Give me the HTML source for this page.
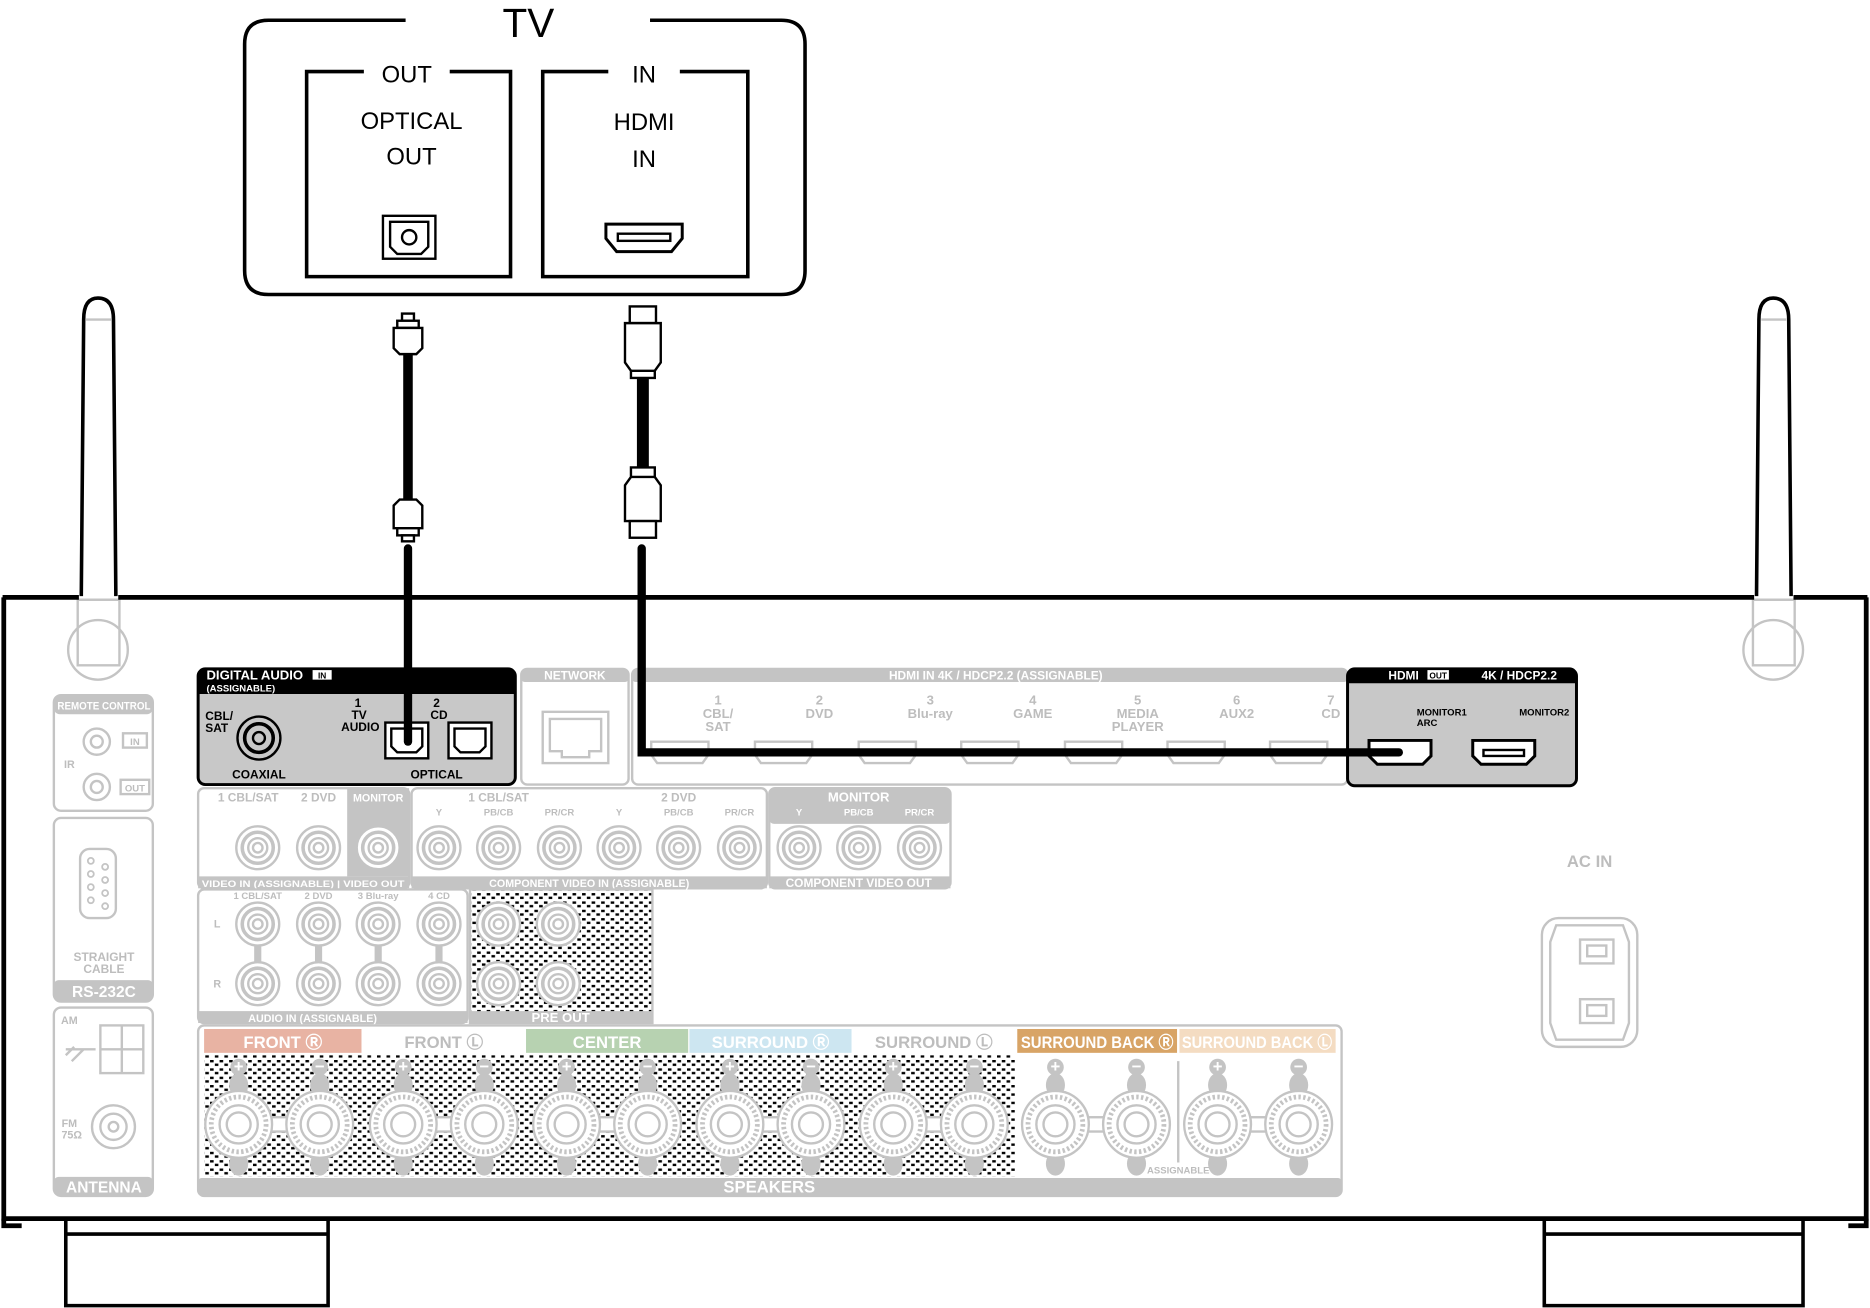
<!DOCTYPE html>
<html><head><meta charset="utf-8"><style>
html,body{margin:0;padding:0;background:#fff}
svg{display:block}
text{font-family:"Liberation Sans",Arial,sans-serif}
.g{fill:none;stroke:#c4c4c4;stroke-width:2}
.gt{fill:#bdbdbd;font-weight:bold;text-anchor:middle}
.wt{fill:#fff;font-weight:bold;text-anchor:middle}
.k{fill:none;stroke:#000;stroke-width:3}
</style></head><body>
<svg width="1870" height="1308" viewBox="0 0 1568 1097" font-size="10" xmlns="http://www.w3.org/2000/svg">
<defs>
<pattern id="h" width="8" height="7" patternUnits="userSpaceOnUse">
<rect x="0" y="0" width="3" height="2" fill="#000"/><rect x="4" y="3" width="3" height="2" fill="#000"/>
</pattern>
<g id="rca"><circle r="18" fill="#fff" stroke="#c4c4c4" stroke-width="2"/><circle r="13" fill="none" stroke="#c4c4c4" stroke-width="3"/><circle r="8" fill="none" stroke="#c4c4c4" stroke-width="2"/><circle r="4" fill="none" stroke="#c4c4c4" stroke-width="2"/></g>
<g id="spk"><ellipse cx="0" cy="-33" rx="8" ry="10" fill="#c4c4c4"/><ellipse cx="0" cy="33" rx="8" ry="10" fill="#c4c4c4"/><circle cx="0" cy="-48" r="7" fill="#c4c4c4"/><circle r="28" fill="#fff" stroke="#c4c4c4" stroke-width="2"/><circle r="23" fill="none" stroke="#c4c4c4" stroke-width="4" stroke-dasharray="2 2"/><circle r="16" fill="none" stroke="#c4c4c4" stroke-width="2"/><circle r="10" fill="none" stroke="#c4c4c4" stroke-width="2"/></g>
<g id="pair"><rect x="25" y="-6" width="20" height="12" fill="#fff" stroke="#c4c4c4" stroke-width="2"/><use href="#spk"/><use href="#spk" x="68"/><text x="0" y="-44" fill="#fff" font-size="14" font-weight="bold" text-anchor="middle">+</text><text x="68" y="-44" fill="#fff" font-size="14" font-weight="bold" text-anchor="middle">−</text></g>
<g id="hp"><path d="M-24,-9 H24 V2 L19,9 H-19 L-24,2 Z" fill="none" stroke="#c4c4c4" stroke-width="2"/></g>
</defs>

<!-- TV -->
<path d="M340,17 H225 Q205,17 205,37 V227 Q205,247 225,247 H655 Q675,247 675,227 V37 Q675,17 655,17 H545" class="k"/>
<text x="443" y="31" font-size="34" text-anchor="middle">TV</text>
<path d="M305,60 H257 V232 H428 V60 H377" class="k" stroke-width="2"/>
<text x="341" y="69" font-size="20" text-anchor="middle">OUT</text>
<path d="M510,60 H455 V232 H627 V60 H570" class="k" stroke-width="2"/>
<text x="540" y="69" font-size="20" text-anchor="middle">IN</text>
<text x="345" y="108" font-size="20" text-anchor="middle">OPTICAL</text>
<text x="345" y="138" font-size="20" text-anchor="middle">OUT</text>
<text x="540" y="109" font-size="20" text-anchor="middle">HDMI</text>
<text x="540" y="140" font-size="20" text-anchor="middle">IN</text>
<rect x="321" y="181" width="44" height="36" fill="none" stroke="#000" stroke-width="2"/>
<path d="M327,186 H359 V207 L353,213 H333 L327,207 Z" fill="none" stroke="#000" stroke-width="2"/>
<circle cx="343" cy="199" r="6" fill="none" stroke="#000" stroke-width="2"/>
<path d="M508,188 H572 V200 L563,211 H517 L508,200 Z" fill="none" stroke="#000" stroke-width="2.5"/>
<rect x="518" y="196" width="44" height="6" fill="none" stroke="#000" stroke-width="2"/>

<!-- optical cable -->
<rect x="337" y="263" width="10" height="6" fill="#fff" stroke="#000" stroke-width="2"/>
<rect x="333" y="269" width="18" height="6" fill="#fff" stroke="#000" stroke-width="2"/>
<path d="M330,275 H354 V292 L349,297 H335 L330,292 Z" fill="#fff" stroke="#000" stroke-width="2"/>
<rect x="338" y="297" width="8" height="122" fill="#000"/>
<path d="M335,419 H349 L354,424 V443 H330 V424 Z" fill="#fff" stroke="#000" stroke-width="2"/>
<rect x="333" y="443" width="18" height="6" fill="#fff" stroke="#000" stroke-width="2"/>
<rect x="337" y="449" width="10" height="5" fill="#fff" stroke="#000" stroke-width="2"/>
<!-- hdmi cable -->
<rect x="528" y="257" width="22" height="14" fill="#fff" stroke="#000" stroke-width="2"/>
<path d="M524,271 H554 V304 L549,311 V317 H529 V311 L524,304 Z" fill="#fff" stroke="#000" stroke-width="2"/>
<line x1="529" y1="311" x2="549" y2="311" stroke="#000" stroke-width="2"/>
<rect x="534" y="317" width="10" height="76" fill="#000"/>
<path d="M529,392 H549 V400 L554,407 V437 H524 V407 L529,400 Z" fill="#fff" stroke="#000" stroke-width="2"/>
<line x1="529" y1="400" x2="549" y2="400" stroke="#000" stroke-width="2"/>
<rect x="528" y="437" width="22" height="14" fill="#fff" stroke="#000" stroke-width="2"/>

<!-- antennas -->
<g>
<path d="M68,500 L70,268 Q70,250 82,250 Q95,250 95,268 L97,500" fill="#fff" class="k" stroke-width="4"/>
<line x1="72" y1="268" x2="93" y2="268" stroke="#c4c4c4" stroke-width="2"/>
<path d="M65,503 H100 V558 H65 Z" class="g"/>
<circle cx="82" cy="545" r="25" class="g"/>
<path d="M1473,500 L1475,268 Q1475,250 1487,250 Q1500,250 1500,268 L1502,500" fill="#fff" class="k" stroke-width="4"/>
<line x1="1477" y1="268" x2="1498" y2="268" stroke="#c4c4c4" stroke-width="2"/>
<path d="M1470,503 H1505 V558 H1470 Z" class="g"/>
<circle cx="1487" cy="545" r="25" class="g"/>
</g>

<!-- body -->
<path d="M2,501 H66 M99,501 H1471 M1504,501 H1566" stroke="#000" stroke-width="4"/>
<path d="M3,501 V1022 H1565 V501" fill="none" stroke="#000" stroke-width="4"/>
<path d="M3,1022 L3,1028 H18 M1565,1022 V1028 H1550" fill="none" stroke="#000" stroke-width="4"/>
<path d="M55,1024 V1095 H275 V1024 M55,1035 H275" fill="none" stroke="#000" stroke-width="3"/>
<path d="M1295,1024 V1095 H1512 V1024 M1295,1035 H1512" fill="none" stroke="#000" stroke-width="3"/>

<!-- left column -->
<rect x="45" y="583" width="83" height="97" rx="6" class="g"/>
<rect x="45" y="583" width="83" height="16" rx="5" fill="#c4c4c4"/>
<text x="87" y="595" class="wt" font-size="9" textLength="78" lengthAdjust="spacingAndGlyphs">REMOTE CONTROL</text>
<text x="58" y="644" class="gt" font-size="9">IR</text>
<circle cx="81" cy="622" r="11" class="g"/><circle cx="81" cy="622" r="5" class="g"/>
<circle cx="81" cy="660" r="11" class="g"/><circle cx="81" cy="660" r="5" class="g"/>
<rect x="103" y="615" width="20" height="12" class="g"/><text x="113" y="625" class="gt" font-size="8">IN</text>
<rect x="101" y="654" width="24" height="12" class="g"/><text x="113" y="664" class="gt" font-size="8">OUT</text>
<rect x="45" y="686" width="83" height="154" rx="6" class="g"/>
<rect x="67" y="712" width="30" height="58" rx="8" class="g"/>
<g fill="none" stroke="#c4c4c4" stroke-width="1.5"><circle cx="76" cy="722" r="2.5"/><circle cx="76" cy="733" r="2.5"/><circle cx="76" cy="744" r="2.5"/><circle cx="76" cy="755" r="2.5"/><circle cx="88" cy="727" r="2.5"/><circle cx="88" cy="738" r="2.5"/><circle cx="88" cy="749" r="2.5"/><circle cx="88" cy="760" r="2.5"/></g>
<text x="87" y="806" class="gt">STRAIGHT</text><text x="87" y="816" class="gt">CABLE</text>
<rect x="45" y="822" width="83" height="18" rx="4" fill="#c4c4c4"/>
<text x="87" y="836" class="wt" font-size="13">RS-232C</text>
<rect x="45" y="845" width="83" height="158" rx="6" class="g"/>
<text x="58" y="859" class="gt" font-size="9">AM</text>
<rect x="84" y="860" width="36" height="40" class="g"/>
<path d="M84,880 H120 M102,860 V900" class="g"/>
<path d="M55,880 H80 M60,890 L70,880 M55,885 L62,878" class="g"/>
<text x="58" y="945" class="gt" font-size="9">FM</text><text x="60" y="955" class="gt" font-size="9">75Ω</text>
<circle cx="95" cy="945" r="18" class="g"/><circle cx="95" cy="945" r="11" class="g"/><circle cx="95" cy="945" r="4" class="g"/>
<rect x="45" y="987" width="83" height="16" rx="4" fill="#c4c4c4"/>
<text x="87" y="1000" class="wt" font-size="13">ANTENNA</text>

<!-- digital audio panel -->
<rect x="166" y="561" width="266" height="97" rx="6" fill="#c8c8c8" stroke="#000" stroke-width="2.5"/>
<path d="M166,582 V567 Q166,561 172,561 H426 Q432,561 432,567 V582 Z" fill="#000"/>
<text x="173" y="570" fill="#fff" font-size="11" font-weight="bold">DIGITAL AUDIO</text>
<rect x="262" y="562" width="16" height="8" fill="#fff"/><text x="270" y="569" font-size="7" font-weight="bold" text-anchor="middle">IN</text>
<text x="173" y="580" fill="#fff" font-size="8" font-weight="bold">(ASSIGNABLE)</text>
<text x="172" y="604" font-size="10" font-weight="bold">CBL/</text><text x="172" y="614" font-size="10" font-weight="bold">SAT</text>
<circle cx="217" cy="619" r="18" fill="none" stroke="#000" stroke-width="2"/><circle cx="217" cy="619" r="12" fill="none" stroke="#000" stroke-width="3"/><circle cx="217" cy="619" r="5" fill="none" stroke="#000" stroke-width="2"/>
<text x="217" y="653" font-size="10" font-weight="bold" text-anchor="middle">COAXIAL</text>
<text x="300" y="593" font-size="10" font-weight="bold" text-anchor="middle">1</text>
<text x="301" y="603" font-size="10" font-weight="bold" text-anchor="middle">TV</text>
<text x="302" y="613" font-size="10" font-weight="bold" text-anchor="middle">AUDIO</text>
<text x="366" y="593" font-size="10" font-weight="bold" text-anchor="middle">2</text>
<text x="368" y="603" font-size="10" font-weight="bold" text-anchor="middle">CD</text>
<rect x="323" y="606" width="36" height="30" fill="#fff" stroke="#000" stroke-width="2"/>
<path d="M328,611 H354 V626 L349,631 H333 L328,626 Z" fill="none" stroke="#000" stroke-width="2"/>
<rect x="376" y="606" width="36" height="30" fill="#fff" stroke="#000" stroke-width="2"/>
<path d="M381,611 H407 V626 L402,631 H386 L381,626 Z" fill="none" stroke="#000" stroke-width="2"/>
<text x="366" y="653" font-size="10" font-weight="bold" text-anchor="middle">OPTICAL</text>

<!-- network -->
<rect x="437" y="561" width="90" height="97" rx="5" class="g"/>
<rect x="437" y="561" width="90" height="11" rx="3" fill="#c4c4c4"/>
<text x="482" y="570" class="wt" font-size="10">NETWORK</text>
<rect x="455" y="597" width="55" height="43" class="g"/><path d="M461,603 H504 V630 H494 V635 H471 V630 H461 Z" class="g"/>

<!-- hdmi in -->
<rect x="530" y="561" width="600" height="97" rx="5" class="g"/>
<rect x="530" y="561" width="600" height="11" rx="3" fill="#c4c4c4"/>
<text x="835" y="570" class="wt" font-size="10">HDMI  IN   4K / HDCP2.2  (ASSIGNABLE)</text>
<g class="gt" font-size="11" font-weight="normal">
<text x="602" y="591">1</text><text x="602" y="602">CBL/</text><text x="602" y="613">SAT</text>
<text x="687" y="591">2</text><text x="687" y="602">DVD</text>
<text x="780" y="591">3</text><text x="780" y="602">Blu-ray</text>
<text x="866" y="591">4</text><text x="866" y="602">GAME</text>
<text x="954" y="591">5</text><text x="954" y="602">MEDIA</text><text x="954" y="613">PLAYER</text>
<text x="1037" y="591">6</text><text x="1037" y="602">AUX2</text>
<text x="1116" y="591">7</text><text x="1116" y="602">CD</text>
</g>
<use href="#hp" x="570" y="631"/><use href="#hp" x="657" y="631"/><use href="#hp" x="744" y="631"/><use href="#hp" x="830" y="631"/><use href="#hp" x="917" y="631"/><use href="#hp" x="1003" y="631"/><use href="#hp" x="1089" y="631"/>

<!-- hdmi out -->
<rect x="1130" y="561" width="192" height="98" rx="6" fill="#c8c8c8" stroke="#000" stroke-width="2.5"/>
<path d="M1130,573 V567 Q1130,561 1136,561 H1316 Q1322,561 1322,567 V573 Z" fill="#000"/>
<text x="1177" y="570" fill="#fff" font-size="10" font-weight="bold" text-anchor="middle">HDMI</text>
<rect x="1197" y="562" width="18" height="8" fill="#fff"/><text x="1206" y="569" font-size="7" font-weight="bold" text-anchor="middle">OUT</text>
<text x="1274" y="570" fill="#fff" font-size="10" font-weight="bold" text-anchor="middle">4K / HDCP2.2</text>
<text x="1188" y="600" font-size="8" font-weight="bold">MONITOR1</text><text x="1188" y="609" font-size="8" font-weight="bold">ARC</text>
<text x="1274" y="600" font-size="8" font-weight="bold">MONITOR2</text>
<path d="M1148,621 H1200 V634 L1193,641 H1155 L1148,634 Z" fill="#fff" stroke="#000" stroke-width="2.5"/>
<path d="M1235,621 H1287 V634 L1280,641 H1242 L1235,634 Z" fill="#fff" stroke="#000" stroke-width="2.5"/>
<rect x="1244" y="629" width="34" height="5" fill="none" stroke="#000" stroke-width="2"/>

<!-- cable lines into receiver -->
<path d="M342,460 V622" stroke="#000" stroke-width="7" stroke-linecap="round"/>
<path d="M538,460 V631 H1173" fill="none" stroke="#000" stroke-width="7" stroke-linecap="round"/>
<rect x="1178" y="628" width="20" height="5" fill="#fff"/>

<!-- video -->
<rect x="166" y="661" width="177" height="84" rx="5" class="g"/>
<rect x="291" y="661" width="52" height="74" fill="#c4c4c4"/>
<text x="208" y="672" class="gt" font-weight="normal">1 CBL/SAT</text><text x="267" y="672" class="gt" font-weight="normal">2 DVD</text><text x="317" y="672" class="wt" font-size="9">MONITOR</text>
<use href="#rca" x="216" y="711"/><use href="#rca" x="267" y="711"/><use href="#rca" x="317" y="711"/>
<rect x="166" y="735" width="177" height="10" fill="#c4c4c4"/>
<text x="254" y="744" class="wt" font-size="8" textLength="170" lengthAdjust="spacingAndGlyphs">VIDEO  IN  (ASSIGNABLE) | VIDEO OUT</text>
<!-- component -->
<rect x="345" y="661" width="298" height="84" rx="5" class="g"/>
<text x="418" y="672" class="gt" font-weight="normal">1 CBL/SAT</text><text x="569" y="672" class="gt" font-weight="normal">2 DVD</text>
<g class="gt" font-size="8" font-weight="normal"><text x="368" y="684">Y</text><text x="418" y="684">PB/CB</text><text x="469" y="684">PR/CR</text><text x="519" y="684">Y</text><text x="569" y="684">PB/CB</text><text x="620" y="684">PR/CR</text></g>
<use href="#rca" x="368" y="711"/><use href="#rca" x="418" y="711"/><use href="#rca" x="469" y="711"/><use href="#rca" x="519" y="711"/><use href="#rca" x="569" y="711"/><use href="#rca" x="620" y="711"/>
<rect x="345" y="735" width="298" height="10" fill="#c4c4c4"/>
<text x="494" y="744" class="wt" font-size="9">COMPONENT VIDEO  IN  (ASSIGNABLE)</text>
<rect x="645" y="661" width="152" height="84" rx="5" fill="#fff" stroke="#c4c4c4" stroke-width="2"/>
<rect x="645" y="661" width="152" height="30" rx="4" fill="#c4c4c4"/>
<text x="720" y="672" class="wt" font-size="11">MONITOR</text>
<g class="wt" font-size="8"><text x="670" y="684">Y</text><text x="720" y="684">PB/CB</text><text x="771" y="684">PR/CR</text></g>
<use href="#rca" x="670" y="711"/><use href="#rca" x="720" y="711"/><use href="#rca" x="771" y="711"/>
<rect x="645" y="735" width="152" height="10" fill="#c4c4c4"/>
<text x="720" y="744" class="wt" font-size="10">COMPONENT VIDEO OUT</text>

<!-- audio -->
<rect x="166" y="746" width="226" height="112" rx="5" class="g"/>
<g class="gt" font-size="8" font-weight="normal"><text x="216" y="754">1 CBL/SAT</text><text x="267" y="754">2 DVD</text><text x="317" y="754">3 Blu-ray</text><text x="368" y="754">4 CD</text></g>
<text x="182" y="778" class="gt" font-size="9">L</text><text x="182" y="828" class="gt" font-size="9">R</text>
<path d="M216,790 V810 M267,790 V810 M317,790 V810 M368,790 V810" stroke="#c4c4c4" stroke-width="6"/>
<use href="#rca" x="216" y="775"/><use href="#rca" x="267" y="775"/><use href="#rca" x="317" y="775"/><use href="#rca" x="368" y="775"/>
<use href="#rca" x="216" y="825"/><use href="#rca" x="267" y="825"/><use href="#rca" x="317" y="825"/><use href="#rca" x="368" y="825"/>
<rect x="166" y="848" width="226" height="10" fill="#c4c4c4"/>
<text x="262" y="857" class="wt" font-size="9">AUDIO  IN  (ASSIGNABLE)</text>
<!-- pre out -->
<rect x="394" y="746" width="153" height="112" fill="url(#h)" stroke="#c4c4c4" stroke-width="2"/>
<use href="#rca" x="418" y="775"/><use href="#rca" x="468" y="775"/><use href="#rca" x="418" y="825"/><use href="#rca" x="468" y="825"/>
<rect x="394" y="848" width="153" height="10" fill="#c4c4c4"/>
<text x="470" y="857" class="wt" font-size="11">PRE OUT</text>

<!-- AC IN -->
<text x="1333" y="727" class="gt" font-size="14">AC IN</text>
<rect x="1293" y="770" width="80" height="108" rx="14" class="g"/>
<path d="M1305,776 H1361 L1366,790 V858 L1361,872 H1305 L1300,858 V790 Z" class="g"/>
<rect x="1325" y="788" width="28" height="20" class="g"/><rect x="1331" y="793" width="16" height="9" class="g"/>
<rect x="1325" y="838" width="28" height="20" class="g"/><rect x="1331" y="843" width="16" height="9" class="g"/>

<!-- speakers -->
<rect x="166" y="860" width="959" height="143" rx="5" class="g"/>
<rect x="171" y="885" width="680" height="102" fill="url(#h)"/>
<rect x="171" y="863" width="132" height="20" fill="#e8b3a3"/>
<rect x="441" y="863" width="136" height="20" fill="#b7d2b1"/>
<rect x="578" y="863" width="136" height="20" fill="#cde6f1"/>
<rect x="853" y="863" width="134" height="20" fill="#d8a466"/>
<rect x="989" y="863" width="131" height="20" fill="#f4dcc2"/>
<text x="237" y="879" class="wt" font-size="14">FRONT Ⓡ</text>
<text x="372" y="879" class="gt" font-size="14">FRONT Ⓛ</text>
<text x="509" y="879" class="wt" font-size="14">CENTER</text>
<text x="646" y="879" class="wt" font-size="14">SURROUND Ⓡ</text>
<text x="783" y="879" class="gt" font-size="14">SURROUND Ⓛ</text>
<text x="920" y="879" class="wt" font-size="14" textLength="128" lengthAdjust="spacingAndGlyphs">SURROUND BACK Ⓡ</text>
<text x="1054" y="879" class="wt" font-size="14" textLength="126" lengthAdjust="spacingAndGlyphs">SURROUND BACK Ⓛ</text>
<line x1="988" y1="890" x2="988" y2="975" stroke="#c4c4c4" stroke-width="2"/>
<use href="#pair" x="200" y="943"/><use href="#pair" x="338" y="943"/><use href="#pair" x="475" y="943"/><use href="#pair" x="612" y="943"/><use href="#pair" x="749" y="943"/><use href="#pair" x="885" y="943"/><use href="#pair" x="1021" y="943"/>
<text x="988" y="984" class="gt" font-size="8">ASSIGNABLE</text>
<rect x="166" y="988" width="959" height="15" rx="3" fill="#c4c4c4"/>
<text x="645" y="1000" class="wt" font-size="14">SPEAKERS</text>
</svg>
</body></html>
